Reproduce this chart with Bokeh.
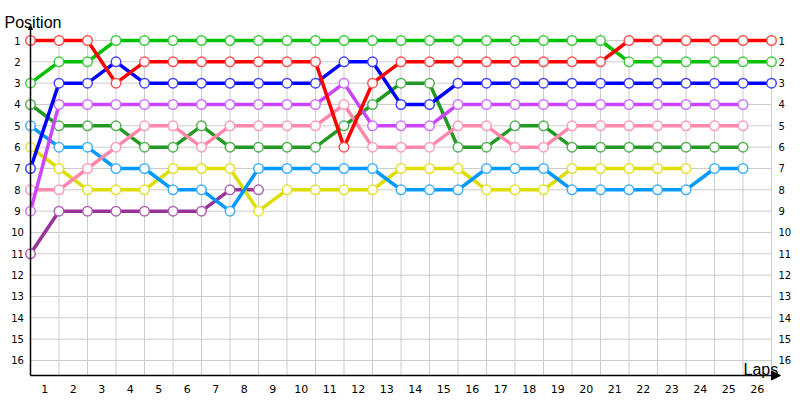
from bokeh.plotting import figure
from bokeh.models import Range1d, Arrow, NormalHead, Label, ColumnDataSource
from bokeh.core.properties import value
from bokeh.embed import file_html
from bokeh.resources import INLINE

# ---- data -------------------------------------------------------------
lap_labels = [str(i) for i in range(1, 27)]
lap_marks = list(range(0, 27))
position_ticks = list(range(1, 17))

red = [1, 1, 1, 3, 2, 2, 2, 2, 2, 2, 2, 6, 3, 2, 2, 2, 2, 2, 2, 2, 2, 1, 1, 1, 1, 1, 1]
green = [3, 2, 2, 1, 1, 1, 1, 1, 1, 1, 1, 1, 1, 1, 1, 1, 1, 1, 1, 1, 1, 2, 2, 2, 2, 2, 2]
blue = [7, 3, 3, 2, 3, 3, 3, 3, 3, 3, 3, 2, 2, 4, 4, 3, 3, 3, 3, 3, 3, 3, 3, 3, 3, 3, 3]
violet = [9, 4, 4, 4, 4, 4, 4, 4, 4, 4, 4, 3, 5, 5, 5, 4, 4, 4, 4, 4, 4, 4, 4, 4, 4, 4]
pink = [8, 8, 7, 6, 5, 5, 6, 5, 5, 5, 5, 4, 6, 6, 6, 5, 5, 6, 6, 5, 5, 5, 5, 5, 5, 5]
darkgreen = [4, 5, 5, 5, 6, 6, 5, 6, 6, 6, 6, 5, 4, 3, 3, 6, 6, 5, 5, 6, 6, 6, 6, 6, 6, 6]
lightblue = [5, 6, 6, 7, 7, 8, 8, 9, 7, 7, 7, 7, 7, 8, 8, 8, 7, 7, 7, 8, 8, 8, 8, 8, 7, 7]
yellow = [6, 7, 8, 8, 8, 7, 7, 7, 9, 8, 8, 8, 8, 7, 7, 7, 8, 8, 8, 7, 7, 7, 7, 7]
purple = [11, 9, 9, 9, 9, 9, 9, 8, 8]

series = [
    (purple, "#993399", "#b060b0"),
    (yellow, "#dddd00", "#e4e030"),
    (lightblue, "#0099ff", "#40b0ff"),
    (darkgreen, "#229922", "#50b050"),
    (pink, "#ff88aa", "#ff99bb"),
    (violet, "#cc44ff", "#d070ff"),
    (blue, "#0000ff", "#4040ff"),
    (green, "#00c000", "#40cc40"),
    (red, "#ff0000", "#ff5050"),
]

# ---- layout constants (pixels -> data) --------------------------------
W, H = 796, 396
PX_LAP = 28.5          # px per lap
PX_POS = 21.3333       # px per position
LEFT_PX = 30           # lap 0 from canvas left
TOP_PX = 40            # position 1 from canvas top
x0 = -LEFT_PX / PX_LAP
x1 = x0 + W / PX_LAP
ytop = 1 - TOP_PX / PX_POS
ybot = ytop + H / PX_POS

axis_y = 1 + 335 / PX_POS          # x-axis line
axis_top = 1 - 15 / PX_POS         # top of y-axis line
grid_top = 1 - 7 / PX_POS          # top of vertical grid lines
xlab_y = 1 + 348 / PX_POS          # x tick labels
ylab_left_x = -13 / PX_LAP         # left tick labels (centre)
ylab_right_x = lap_marks[-1] + 7 / PX_LAP
arrow_end = lap_marks[-1] + 9 / PX_LAP

FONT = "DejaVu Sans"
TITLE_FONT = "Liberation Sans"

p = figure(width=W, height=H, output_backend="svg", toolbar_location=None,
           x_range=Range1d(x0, x1), y_range=Range1d(ybot, ytop),
           x_axis_location=None, y_axis_location=None, title=None,
           min_border=0, min_border_left=0, min_border_right=0,
           min_border_top=0, min_border_bottom=0, outline_line_color=None,
           background_fill_color="white", border_fill_color="white")
p.grid.visible = False

# grid lines
p.segment(x0=lap_marks, y0=[grid_top] * len(lap_marks), x1=lap_marks,
          y1=[axis_y] * len(lap_marks), line_color="#cccccc", line_width=1)
p.segment(x0=[lap_marks[0]] * len(position_ticks), y0=position_ticks,
          x1=[lap_marks[-1]] * len(position_ticks), y1=position_ticks,
          line_color="#cccccc", line_width=1)

# tick labels
p.text(x=[i + 0.5 for i in range(len(lap_labels))], y=[xlab_y] * len(lap_labels),
       text=lap_labels, text_align="center", text_baseline="middle",
       text_font=value(FONT), text_font_size="11px", text_color="#000000")
pos_labels = [str(v) for v in position_ticks]
p.text(x=[ylab_left_x] * len(position_ticks), y=position_ticks, text=pos_labels,
       text_align="center", text_baseline="middle",
       text_font=value(FONT), text_font_size="10px", text_color="#000000")
p.text(x=[ylab_right_x] * len(position_ticks), y=position_ticks, text=pos_labels,
       text_align="left", text_baseline="middle",
       text_font=value(FONT), text_font_size="10px", text_color="#000000")

# axis lines with arrows
p.add_layout(Arrow(x_start=0, y_start=axis_y, x_end=arrow_end, y_end=axis_y,
                   line_color="black", line_width=1.5,
                   end=NormalHead(size=9, fill_color="black", line_color="black")))
p.add_layout(Arrow(x_start=0, y_start=axis_y, x_end=0, y_end=axis_top,
                   line_color="black", line_width=1.5,
                   end=NormalHead(size=4, fill_color="black", line_color="black")))

for vals, col, mcol in series:
    src = ColumnDataSource(dict(lap=list(range(len(vals))), pos=vals))
    p.line("lap", "pos", source=src, line_color=col, line_width=3.5,
           line_join="round")
    p.scatter("lap", "pos", source=src, marker="circle", size=9.5,
              fill_color="white", line_color=mcol, line_width=1.5)

p.add_layout(Label(x=0, y=axis_top, x_offset=-26, y_offset=3, text="Position",
                   text_font=TITLE_FONT, text_font_size="16px",
                   text_color="#000000", text_baseline="alphabetic"))
p.add_layout(Label(x=lap_marks[-1], y=axis_y, x_offset=-28, y_offset=6, text="Laps",
                   text_font=TITLE_FONT, text_font_size="16px",
                   text_color="#000000", text_baseline="alphabetic"))

open("out.html", "w").write(file_html(p, INLINE))
